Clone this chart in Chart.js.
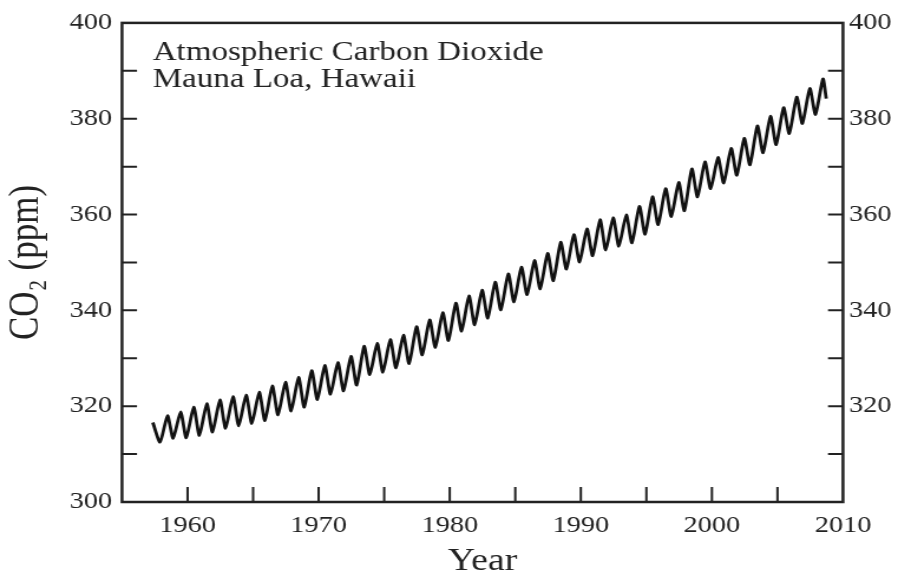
<!DOCTYPE html>
<html lang="en">
<head>
    <meta charset="UTF-8">
    <title>Atmospheric Carbon Dioxide - Mauna Loa</title>
    <script src="https://cdn.jsdelivr.net/npm/chart.js"></script>
    <style>
        body { margin: 0; background: #fff; overflow: hidden; }
        /* the original figure is stretched sideways, so the chart is too */
        #wrap { width: 773px; height: 581px; transform: scaleX(1.18); transform-origin: 0 0; }
    </style>
</head>
<body>
    <div id="wrap"><canvas id="co2Chart" width="773" height="581"></canvas></div>

    <script>
        // seasonal highs (around May) and lows (around October), ppm
        const peakYears = [1958, 1959, 1960, 1961, 1962, 1963, 1964, 1965, 1966, 1967,
            1968, 1969, 1970, 1971, 1972, 1973, 1974, 1975, 1976, 1977,
            1978, 1979, 1980, 1981, 1982, 1983, 1984, 1985, 1986, 1987,
            1988, 1989, 1990, 1991, 1992, 1993, 1994, 1995, 1996, 1997,
            1998, 1999, 2000, 2001, 2002, 2003, 2004, 2005, 2006, 2007, 2008];
        const peakValues = [318.0, 318.8, 319.8, 320.5, 321.3, 322.0, 322.3, 322.9, 324.2, 325.0,
            326.0, 327.4, 328.5, 329.1, 330.4, 332.5, 333.1, 333.9, 334.8, 336.6,
            338.0, 339.5, 341.5, 343.0, 344.2, 345.9, 347.6, 349.0, 350.4, 351.9,
            354.2, 355.8, 357.0, 358.9, 359.3, 359.9, 361.7, 363.7, 365.4, 366.7,
            369.5, 371.0, 371.9, 373.8, 375.9, 378.5, 380.5, 382.3, 384.5, 386.3, 388.3];
        // lows belong to the year before each peak (1957 ... 2007)
        const troughValues = [312.5, 313.3, 313.4, 313.9, 314.6, 315.4, 315.9, 316.4, 317.0, 318.2,
            319.0, 319.8, 321.4, 322.5, 323.2, 324.4, 326.6, 327.1, 328.0, 328.9,
            330.7, 332.3, 333.7, 335.7, 337.0, 338.4, 340.1, 341.8, 343.3, 344.5,
            346.2, 348.6, 350.1, 351.4, 352.6, 353.4, 354.1, 355.9, 357.9, 359.6,
            360.8, 363.7, 365.4, 366.6, 368.2, 370.4, 372.9, 374.6, 376.9, 379.0, 380.9];
        const firstPoint = { x: 1957.35, y: 316.6 };
        const lastPoint = { x: 2008.72, y: 384.2 };
        const peakPhase = 0.47;    // fraction of the year where the high sits
        const troughPhase = 0.9;

        const yTickLabels = [300, 320, 340, 360, 380, 400];
        const xTickLabels = [1960, 1970, 1980, 1990, 2000, 2010];

        const points = [firstPoint];
        peakYears.forEach((yr, i) => {
            points.push({ x: yr - 1 + troughPhase, y: troughValues[i] });
            points.push({ x: yr + peakPhase, y: peakValues[i] });
        });
        points.push(lastPoint);

        const SX = 1.18;
        const serif = "'Liberation Serif', 'Times New Roman', serif";

        // frame + inward tick marks, like the printed figure
        const framePlugin = {
            id: "frame",
            afterDraw(chart) {
                const ctx = chart.ctx;
                const a = chart.chartArea;
                const x = chart.scales.x, y = chart.scales.y;
                ctx.save();
                ctx.strokeStyle = "#222";
                ctx.lineWidth = 2;
                ctx.beginPath();
                y.ticks.forEach(t => {
                    if (t.value <= 300 || t.value >= 400) return;
                    const py = y.getPixelForValue(t.value);
                    ctx.moveTo(a.left, py); ctx.lineTo(a.left + 15 / SX, py);
                    ctx.moveTo(a.right, py); ctx.lineTo(a.right - 15 / SX, py);
                });
                x.ticks.forEach(t => {
                    if (t.value <= 1955 || t.value >= 2010) return;
                    const px = x.getPixelForValue(t.value);
                    ctx.moveTo(px, a.bottom); ctx.lineTo(px, a.bottom - 15);
                });
                ctx.stroke();
                ctx.lineWidth = 2.5;
                ctx.strokeRect(a.left, a.top, a.right - a.left, a.bottom - a.top);

                ctx.fillStyle = "#222";
                ctx.font = "28px " + serif;
                ctx.textBaseline = "alphabetic";
                ctx.fillText("Atmospheric Carbon Dioxide", a.left + 26, a.top + 37);
                ctx.fillText("Mauna Loa, Hawaii", a.left + 26, a.top + 64);
                ctx.restore();
            }
        };

        const tickFont = { family: serif, size: 24 };

        new Chart(document.getElementById("co2Chart"), {
            type: "line",
            data: {
                datasets: [{
                    data: points,
                    borderColor: "#111",
                    borderWidth: 2.8,
                    pointRadius: 0,
                    tension: 0.2,
                    fill: false,
                    yAxisID: "y"
                }]
            },
            options: {
                responsive: false,
                animation: false,
                devicePixelRatio: 1,
                layout: { padding: { top: 18.5, left: 0, right: 0, bottom: 0 } },
                plugins: { legend: { display: false }, tooltip: { enabled: false } },
                scales: {
                    x: {
                        type: "linear",
                        min: 1955,
                        max: 2010,
                        grid: { display: false, drawTicks: false },
                        border: { display: false },
                        afterBuildTicks: s => {
                            s.ticks = [];
                            for (let v = 1955; v <= 2010; v += 5) s.ticks.push({ value: v });
                        },
                        ticks: {
                            autoSkip: false,
                            maxRotation: 0,
                            padding: 9,
                            color: "#222",
                            font: tickFont,
                            callback: v => xTickLabels.includes(v) ? String(v) : ""
                        },
                        title: {
                            display: true,
                            text: "Year",
                            color: "#222",
                            font: { family: serif, size: 32 },
                            padding: { top: 0, bottom: 0 }
                        },
                        afterFit: s => { s.height = 79; }
                    },
                    y: {
                        position: "left",
                        min: 300,
                        max: 400,
                        grid: { display: false, drawTicks: false },
                        border: { display: false },
                        ticks: {
                            stepSize: 10,
                            padding: 8.5,
                            color: "#222",
                            font: tickFont,
                            callback: v => yTickLabels.includes(v) ? String(v) : ""
                        },
                        title: {
                            display: true,
                            text: "CO\u2082 (ppm)",
                            color: "#222",
                            font: { family: serif, size: 35 },
                            padding: { top: 2, bottom: 0 }
                        },
                        afterFit: s => { s.width = 103.4; }
                    },
                    y2: {
                        position: "right",
                        display: true,
                        min: 300,
                        max: 400,
                        grid: { display: false, drawTicks: false },
                        border: { display: false },
                        ticks: {
                            stepSize: 10,
                            padding: 5,
                            color: "#222",
                            font: tickFont,
                            callback: v => (yTickLabels.includes(v) && v > 300) ? String(v) : ""
                        },
                        afterFit: s => { s.width = 58.6; }
                    }
                }
            },
            plugins: [framePlugin]
        });
    </script>
</body>
</html>
